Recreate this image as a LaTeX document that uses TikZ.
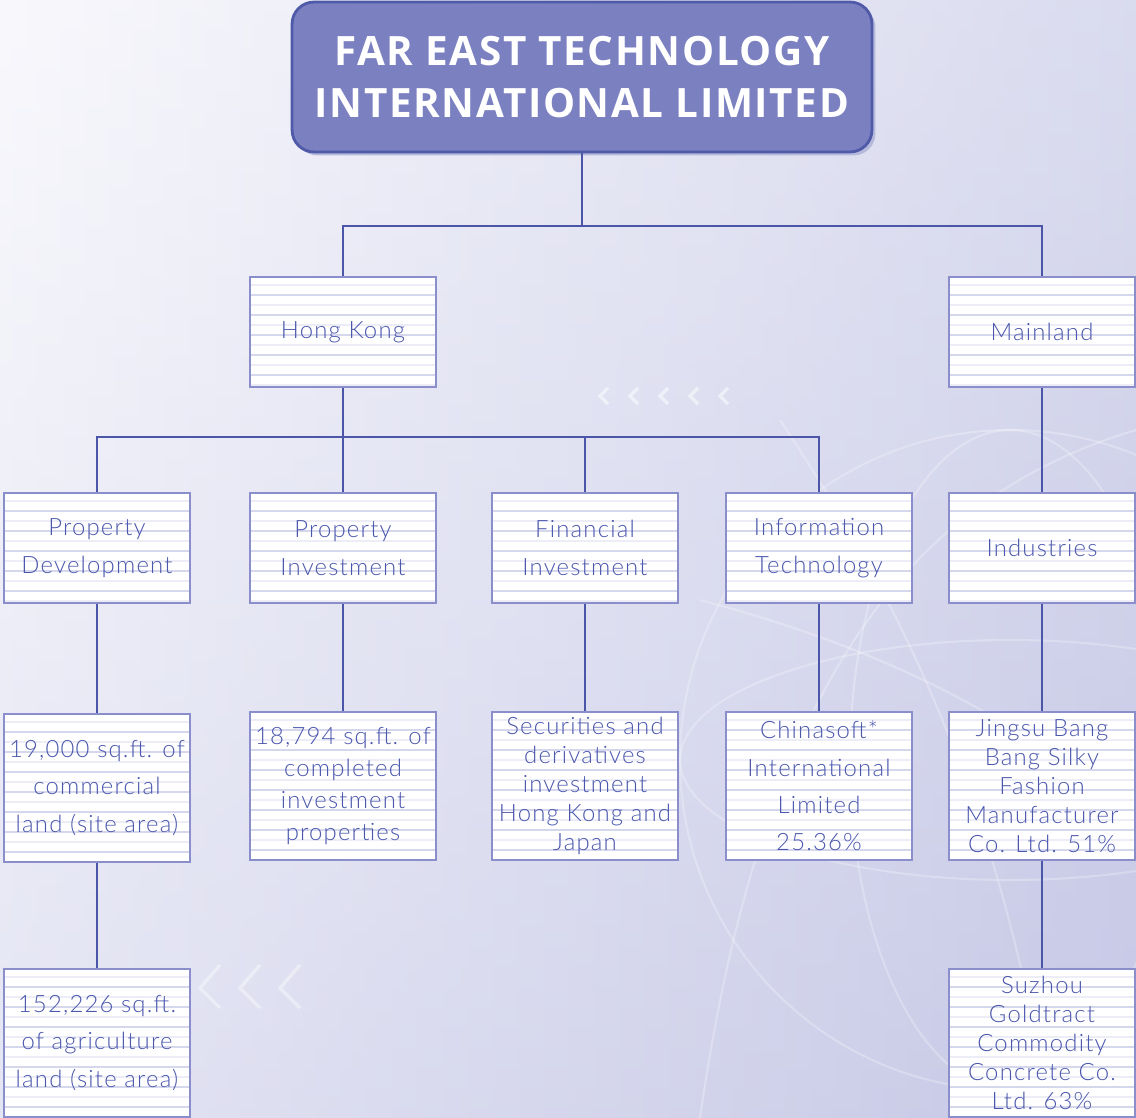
\documentclass[tikz,border=0pt]{standalone}
\usepackage{fontspec}
\setmainfont{Lato}[UprightFont=* Light, LetterSpace=5]
\newfontfamily\titlefont{Open Sans}[LetterSpace=4]
\usetikzlibrary{shadows}

\definecolor{boxline}{HTML}{8A8FCB}
\definecolor{boxtext}{HTML}{4B57AD}
\definecolor{linkcol}{HTML}{4B56A8}
\definecolor{stripecol}{HTML}{D5D7EC}
\definecolor{stripefaint}{HTML}{ECEDF7}
\definecolor{headfill}{HTML}{7B80C0}
\definecolor{headline}{HTML}{4F5AA8}
\definecolor{bgpale}{HTML}{F5F5FB}
\definecolor{bgdeep}{HTML}{C6C8E6}

\tikzset{
  orgbox/.style={draw=boxline, line width=1.6pt, fill=white, text=boxtext,
    minimum width=3.72cm, minimum height=2.2cm, inner sep=0pt, align=center,
    font=\fontsize{13.6}{21.3}\selectfont,
    path picture={
      \foreach \k in {1,...,8}{
        \draw[stripecol, line width=1pt]
          ([yshift=-\k*0.4cm+0.04cm]path picture bounding box.north west) --
          ([yshift=-\k*0.4cm+0.04cm]path picture bounding box.north east);
        \draw[stripefaint, line width=0.8pt]
          ([yshift=-\k*0.4cm+0.24cm]path picture bounding box.north west) --
          ([yshift=-\k*0.4cm+0.24cm]path picture bounding box.north east);
      }
    }},
  tallbox/.style={orgbox, minimum height=2.96cm},
  tight/.style={font=\fontsize{13.6}{16.4}\selectfont},
  medium/.style={font=\fontsize{13.6}{18.1}\selectfont},
  link/.style={draw=linkcol, line width=1.4pt},
  glow/.style={white, line width=1.2pt, opacity=0.25},
}

\begin{document}
\begin{tikzpicture}[x=0.02cm, y=-0.02cm]
  \useasboundingbox (0,0) rectangle (1136,1118);

  % background wash
  \shade[left color=bgpale, right color=bgdeep] (0,0) rectangle (1136,1118);
  \shade[top color=white, bottom color=bgdeep, opacity=0.35] (0,0) rectangle (1136,1118);
  \begin{scope}
    \clip (0,0) rectangle (1136,1118);
    \draw[glow] (1010,760) circle (330);
    \draw[glow] (1010,760) ellipse (160 and 330);
    \draw[glow] (1010,760) ellipse (330 and 120);
    \draw[glow] (700,1118) .. controls (760,700) and (900,500) .. (1136,430);
    \draw[glow] (780,420) .. controls (900,600) and (1000,800) .. (1050,1118);
    \draw[glow] (700,600) .. controls (850,640) and (1000,700) .. (1136,820);
    \foreach \cx in {600,630,660,690,720}
      \draw[white, line width=2pt, opacity=0.5] (\cx+8,388) -- (\cx,396) -- (\cx+8,404);
    \foreach \cx in {200,240,280}
      \draw[white, line width=2pt, opacity=0.4] (\cx+20,965) -- (\cx,988) -- (\cx+20,1008);
  \end{scope}

  % holding company
  \node (top) at (582,77) [draw=headline, line width=1.6pt, fill=headfill,
    rounded corners=0.44cm, minimum width=11.6cm, minimum height=3cm,
    drop shadow={shadow xshift=0.07cm, shadow yshift=-0.07cm, fill=headfill!55, opacity=1},
    text=white, align=center, font=\titlefont\bfseries\fontsize{23}{30}\selectfont]
    {FAR EAST TECHNOLOGY\\INTERNATIONAL LIMITED};

  % regions
  \node (hk) at (343,332) [orgbox] {Hong Kong};
  \node (ml) at (1042,332) [orgbox] {Mainland};

  % business lines
  \node (pd) at (97,548) [orgbox] {Property\\Development};
  \node (pi) at (343,548) [orgbox] {Property\\Investment};
  \node (fi) at (585,548) [orgbox] {Financial\\Investment};
  \node (it) at (819,548) [orgbox] {Information\\Technology};
  \node (ind) at (1042,548) [orgbox] {Industries};

  % holdings
  \node (pdland) at (97,788) [tallbox] {19,000 sq.ft. of\\commercial\\land (site area)};
  \node (piprop) at (343,786) [tallbox, medium] {18,794 sq.ft. of\\completed\\investment\\properties};
  \node (fisec) at (585,786) [tallbox, tight] {Securities and\\derivatives\\investment\\Hong Kong and\\Japan};
  \node (itsoft) at (819,786) [tallbox] {Chinasoft*\\International\\Limited\\25.36\%};
  \node (indbang) at (1042,786) [tallbox, tight] {Jingsu Bang\\Bang Silky\\Fashion\\Manufacturer\\Co. Ltd. 51\%};
  \node (pdagri) at (97,1043) [tallbox] {152,226 sq.ft.\\of agriculture\\land (site area)};
  \node (indconc) at (1042,1043) [tallbox, tight] {Suzhou\\Goldtract\\Commodity\\Concrete Co.\\Ltd. 63\%};

  % connectors
  \draw[link] (top.south) -- (top.south |- 0,226) -| (hk.north);
  \draw[link] (top.south |- 0,226) -| (ml.north);
  \draw[link] (hk.south) -- (hk.south |- 0,437) -| (pd.north);
  \draw[link] (hk.south |- 0,437) -| (it.north);
  \draw[link] (hk.south |- 0,437) -- (pi.north);
  \draw[link] (fi.north |- 0,437) -- (fi.north);
  \draw[link] (ml) -- (ind);
  \draw[link] (pd) -- (pdland);
  \draw[link] (pi) -- (piprop);
  \draw[link] (fi) -- (fisec);
  \draw[link] (it) -- (itsoft);
  \draw[link] (ind) -- (indbang);
  \draw[link] (pdland) -- (pdagri);
  \draw[link] (indbang) -- (indconc);
\end{tikzpicture}
\end{document}
